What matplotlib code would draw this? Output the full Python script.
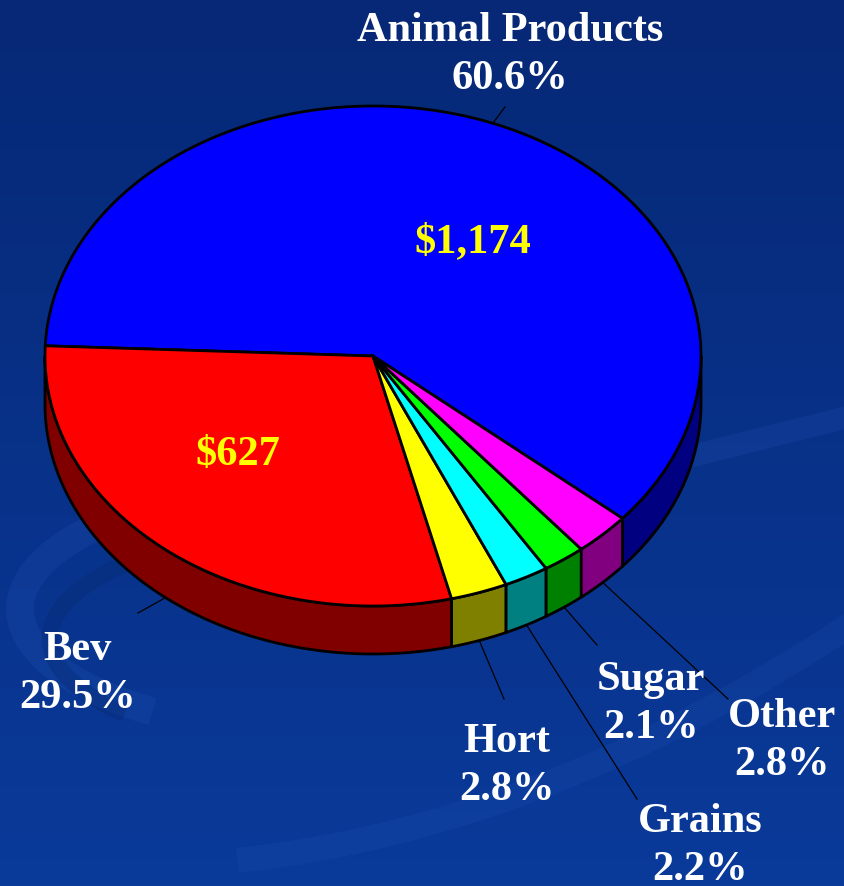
import numpy as np
import matplotlib
matplotlib.use("Agg")
import matplotlib.pyplot as plt
from matplotlib.patches import Polygon, Arc

# data
names = ['Animal Products', 'Bev', 'Hort', 'Grains', 'Sugar', 'Other']
pcts = [60.6, 29.5, 2.8, 2.2, 2.1, 2.8]
dollars = ['$1,174', '$627', None, None, None, None]
top_cols = ['#0000FF', '#FF0000', '#FFFF00', '#00FFFF', '#00FF00', '#FF00FF']
side_cols = ['#000080', '#800000', '#808000', '#008080', '#008000', '#800080']

# label layout (pixel coords)
lab_xy = [(510, 55), (78, 674), (507, 766), (700, 846), (651, 704), (782, 741)]
line_end = [(505, 108), (138, 614), (504, 700), (637, 800), (597, 646), (728, 700)]
dollar_xy = [(473, 242), (238, 455)]

cx, cy, rx, ry, depth = 373, 357, 328, 250, 48
start = -40.5

W, H = 844, 887
fig = plt.figure(figsize=(W / 100, H / 100), dpi=100)
ax = fig.add_axes([0, 0, 1, 1])
ax.set_xlim(0, W)
ax.set_ylim(H, 0)
ax.axis('off')

# background gradient + faint swirls
grad = np.linspace(0, 1, 256)[:, None] * np.ones((1, 2))
c0 = np.array([6, 40, 118]) / 255
c1 = np.array([10, 58, 154]) / 255
img = c0[None, None, :] * (1 - grad[..., None]) + c1[None, None, :] * grad[..., None]
ax.imshow(img, extent=[0, W, H, 0], aspect='auto', zorder=0)
ax.add_patch(Arc((330, 610), 620, 250, theta1=150, theta2=330, color='#2a5cc0',
                 lw=20, alpha=0.18, zorder=1))
ax.add_patch(Arc((330, 640), 560, 220, theta1=160, theta2=320, color='#06286e',
                 lw=12, alpha=0.35, zorder=1))
xs = np.linspace(250, 844, 100)
ax.plot(xs, 860 - 0.00045 * (xs - 250) ** 2 - 0.12 * (xs - 250), color='#2a5cc0',
        lw=18, alpha=0.15, zorder=1)
xs2 = np.linspace(600, 844, 60)
ax.plot(xs2, 480 - 0.25 * (xs2 - 600), color='#2a5cc0', lw=16, alpha=0.18, zorder=1)


def pt(a, dy=0):
    r = np.radians(a)
    return cx + rx * np.cos(r), cy - ry * np.sin(r) + dy


angles = []
a = start
for p in pcts:
    span = p / sum(pcts) * 360
    angles.append((a, a + span))
    a += span

# sides (front half only)
for (a0, a1), sc in zip(angles, side_cols):
    for lo, hi in [(-180, 0), (180, 360), (540, 720)]:
        s0, s1 = max(a0, lo), min(a1, hi)
        if s1 <= s0:
            continue
        th = np.linspace(s0, s1, 80)
        top = [pt(t) for t in th]
        bot = [pt(t, depth) for t in th[::-1]]
        ax.add_patch(Polygon(top + bot, closed=True, fc=sc, ec='black', lw=2.0,
                             joinstyle='round', zorder=2))

# tops
for (a0, a1), tc in zip(angles, top_cols):
    th = np.linspace(a0, a1, 200)
    verts = [(cx, cy)] + [pt(t) for t in th]
    ax.add_patch(Polygon(verts, closed=True, fc=tc, ec='black', lw=2.0,
                         joinstyle='round', zorder=3))

font = dict(family='Liberation Serif', fontweight='bold', fontsize=30.5)

# labels and leader lines
for i, ((a0, a1), name, p) in enumerate(zip(angles, names, pcts)):
    mid = (a0 + a1) / 2
    if np.sin(np.radians(mid)) > 0:
        x0, y0 = pt(mid)
    else:
        x0, y0 = pt(mid, depth)
    ex, ey = line_end[i]
    ax.plot([x0, ex], [y0, ey], color='black', lw=0.9, zorder=4)
    lx, ly = lab_xy[i]
    ax.text(lx, ly, f"{name}\n{p:.1f}%", ha='center', va='center', color='white',
            linespacing=1.33, zorder=5, **font)

for (x, y), d in zip(dollar_xy, dollars[:2]):
    ax.text(x, y, d, ha='center', va='center', color='#FFFF00', zorder=5, **font)

fig.savefig('out.png', dpi=100)
